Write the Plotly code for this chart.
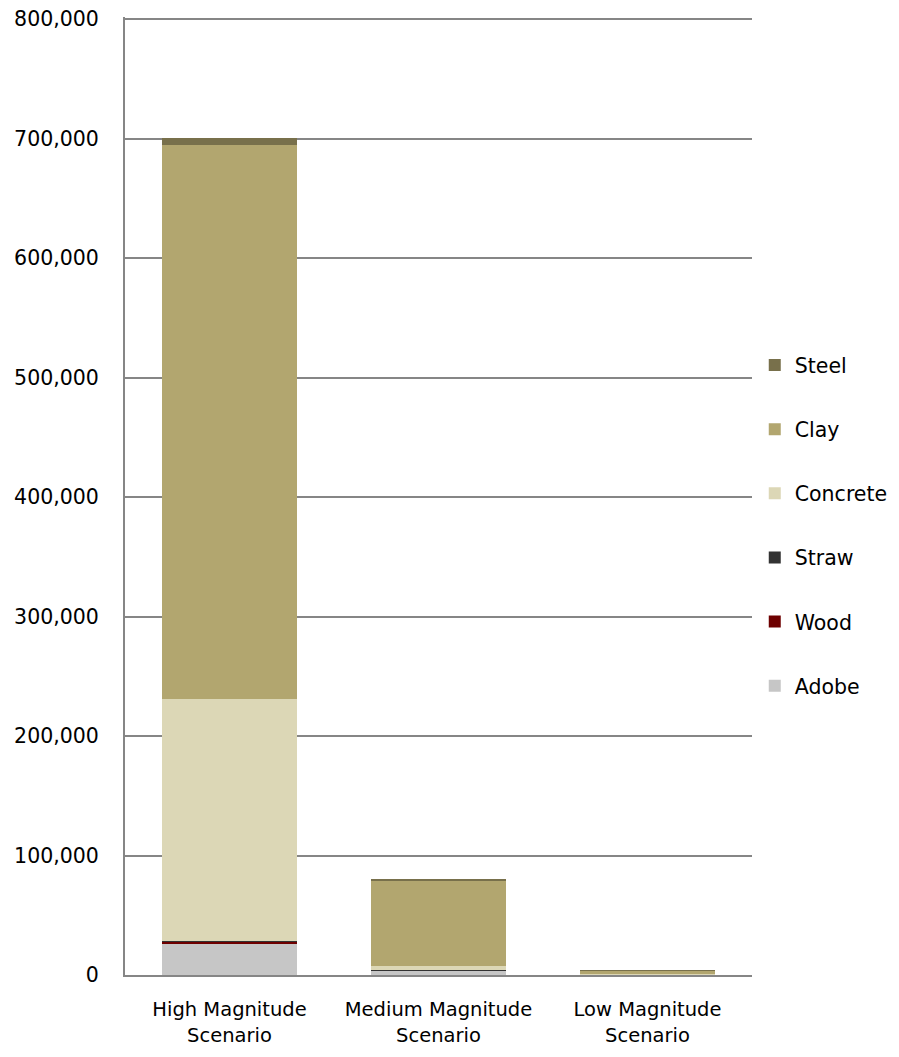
import plotly.graph_objects as go

categories = ["High Magnitude<br>Scenario", "Medium Magnitude<br>Scenario", "Low Magnitude<br>Scenario"]
adobe = [26500, 4000, 300]
wood = [1200, 80, 30]
straw = [500, 60, 20]
concrete = [203000, 3500, 400]
clay = [463000, 71500, 2800]
steel = [6000, 1500, 500]

series = [
    ("Adobe", adobe, "#C6C6C6"),
    ("Wood", wood, "#6E0000"),
    ("Straw", straw, "#333333"),
    ("Concrete", concrete, "#DCD7B6"),
    ("Clay", clay, "#B2A66F"),
    ("Steel", steel, "#78704B"),
]

FONT = "DejaVu Sans"

fig = go.Figure()
n = len(series)
for i, (name, vals, col) in enumerate(series):
    fig.add_trace(go.Bar(
        x=categories, y=vals, name=name, legendgroup=name, legendrank=n - i,
        marker=dict(color=col, line=dict(width=0)),
    ))

fig.update_layout(
    width=899, height=1057,
    barmode="stack", bargap=0.354,
    plot_bgcolor="white", paper_bgcolor="white",
    margin=dict(l=117, r=155, t=9, b=90, autoexpand=False),
    font=dict(family=FONT, size=19.5, color="#000000"),
    showlegend=True,
    legend=dict(
        traceorder="grouped", x=1.0044, xanchor="left", y=0.469, yanchor="middle",
        font=dict(family=FONT, size=20.5, color="#000000"),
        tracegroupgap=34.5, itemwidth=30, bgcolor="rgba(0,0,0,0)",
    ),
)
fig.update_yaxes(
    range=[0, 801700], tickvals=[0, 100000, 200000, 300000, 400000, 500000, 600000, 700000, 800000],
    tickformat=",", automargin=False, ticklabeloverflow="allow",
    showgrid=True, gridcolor="#868686", gridwidth=1.6,
    showline=True, linecolor="#868686", linewidth=2,
    zeroline=False, ticks="", ticklabelstandoff=20,
    tickfont=dict(family=FONT, size=20.5, color="#000000"),
)
fig.update_xaxes(
    showline=True, linecolor="#868686", linewidth=2, automargin=False,
    ticks="", ticklabelstandoff=16,
    tickfont=dict(family=FONT, size=19.5, color="#000000"),
)

fig.write_html("out.html")
